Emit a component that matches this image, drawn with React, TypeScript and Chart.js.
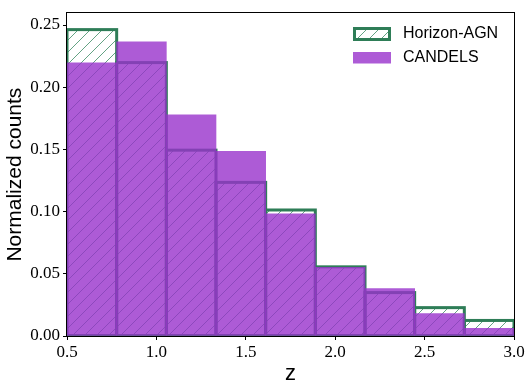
import React, { useEffect, useRef } from "react";
import { Chart, registerables } from "chart.js";

Chart.register(...registerables);

// Histogram bin edges (z)
const binEdges = [0.5, 0.7778, 1.0556, 1.3333, 1.6111, 1.8889, 2.1667, 2.4444, 2.7222, 3.0];
// Normalized counts per bin
const horizonAGN = [0.2463, 0.2198, 0.1494, 0.1235, 0.1013, 0.0556, 0.0349, 0.0228, 0.0125];
const candels = [0.2196, 0.2365, 0.1778, 0.1484, 0.0982, 0.0553, 0.0381, 0.018, 0.0061];
const seriesLabels = ["Horizon-AGN", "CANDELS"];
const xTicks = [0.5, 1.0, 1.5, 2.0, 2.5, 3.0];
const yTicks = [0, 0.05, 0.1, 0.15, 0.2, 0.25];
const xTitle = "z";
const yTitle = "Normalized counts";

const GREEN = "rgb(46,125,87)";
const PURPLE = "rgba(153,50,204,0.8)";
const SERIF = "'Liberation Serif', 'DejaVu Serif', serif";
const SANS = "'Liberation Sans', 'DejaVu Sans', sans-serif";

function makeHatch(): CanvasPattern | string {
  const c = document.createElement("canvas");
  c.width = 12;
  c.height = 12;
  const g = c.getContext("2d");
  if (!g) return "transparent";
  g.strokeStyle = "rgb(60,140,100)";
  g.lineWidth = 0.8;
  g.beginPath();
  g.moveTo(-1, 1);
  g.lineTo(1, -1);
  g.moveTo(-1, 13);
  g.lineTo(13, -1);
  g.moveTo(11, 13);
  g.lineTo(13, 11);
  g.stroke();
  return g.createPattern(c, "repeat") || "transparent";
}

export default function App() {
  const ref = useRef<HTMLCanvasElement | null>(null);

  useEffect(() => {
    if (!ref.current) return;
    const hatch = makeHatch();
    const centers = binEdges.slice(0, -1).map((e, i) => (e + binEdges[i + 1]) / 2);

    const custom = {
      id: "mplStyle",
      afterDatasetDraw(chart: any, args: any) {
        if (args.index !== 0) return;
        const ctx = chart.ctx;
        const a = chart.chartArea;
        ctx.save();
        ctx.beginPath();
        ctx.rect(a.left, a.top, a.right - a.left, a.bottom - a.top);
        ctx.clip();
        ctx.strokeStyle = GREEN;
        ctx.lineWidth = 3;
        for (const el of args.meta.data) {
          const p = el.getProps(["x", "y", "base", "width"], true);
          ctx.strokeRect(p.x - p.width / 2, p.y, p.width, p.base - p.y);
        }
        ctx.restore();
      },
      afterDatasetsDraw(chart: any) {
        const ctx = chart.ctx;
        const a = chart.chartArea;
        ctx.save();
        ctx.strokeStyle = "#000";
        ctx.lineWidth = 1;
        ctx.strokeRect(Math.round(a.left) - 0.5, Math.round(a.top) - 0.5, Math.round(a.right - a.left) + 1, Math.round(a.bottom - a.top) + 1);
        ctx.restore();
      },
      afterDraw(chart: any) {
        const ctx = chart.ctx;
        const a = chart.chartArea;
        const px = a.right - 159.5;
        ctx.save();
        // Horizon-AGN patch
        ctx.fillStyle = hatch;
        ctx.fillRect(px, 28.5, 35, 11);
        ctx.strokeStyle = GREEN;
        ctx.lineWidth = 3;
        ctx.strokeRect(px, 28.5, 35, 11);
        // CANDELS patch
        ctx.fillStyle = PURPLE;
        ctx.fillRect(px - 1.5, 52, 38, 11.5);
        // Texts
        ctx.fillStyle = "#000";
        ctx.font = `16px ${SANS}`;
        ctx.textBaseline = "middle";
        ctx.textAlign = "left";
        ctx.fillText(seriesLabels[0], a.right - 111, 33.5);
        ctx.fillText(seriesLabels[1], a.right - 111, 58);
        ctx.restore();
      },
    };

    const chart = new Chart(ref.current, {
      type: "bar",
      data: {
        datasets: [
          {
            label: seriesLabels[0],
            data: centers.map((x, i) => ({ x, y: horizonAGN[i] })),
            backgroundColor: hatch as any,
            borderWidth: 0,
            order: 1,
            grouped: false,
            barPercentage: 1,
            categoryPercentage: 1,
          } as any,
          {
            label: seriesLabels[1],
            data: centers.map((x, i) => ({ x, y: candels[i] })),
            backgroundColor: PURPLE,
            borderWidth: 0,
            order: 0,
            grouped: false,
            barPercentage: 1,
            categoryPercentage: 1,
          } as any,
        ],
      },
      options: {
        animation: false,
        responsive: false,
        layout: { padding: { left: 0, right: 17, top: 10, bottom: 0 } },
        plugins: { legend: { display: false }, tooltip: { enabled: false } },
        scales: {
          x: {
            type: "linear",
            min: binEdges[0],
            max: binEdges[binEdges.length - 1],
            offset: false,
            afterBuildTicks: (s: any) => {
              s.ticks = xTicks.map((v) => ({ value: v }));
            },
            afterFit: (s: any) => {
              s.height = 55;
            },
            ticks: {
              callback: (v: any) => Number(v).toFixed(1),
              font: { family: SERIF, size: 17 },
              color: "#000",
              padding: 2,
              maxRotation: 0,
              autoSkip: false,
            },
            grid: { offset: false, drawOnChartArea: false, drawTicks: true, tickLength: 4, color: "#000", lineWidth: 1 },
            border: { display: false },
            title: {
              display: true,
              text: xTitle,
              font: { family: SANS, size: 22 },
              color: "#000",
              padding: { top: 0, bottom: 4 },
            },
          } as any,
          y: {
            type: "linear",
            min: 0,
            max: 0.2595,
            afterBuildTicks: (s: any) => {
              s.ticks = yTicks.map((v) => ({ value: v }));
            },
            afterFit: (s: any) => {
              s.width = 67;
            },
            ticks: {
              callback: (v: any) => Number(v).toFixed(2),
              font: { family: SERIF, size: 17 },
              color: "#000",
              padding: 3,
            },
            grid: { drawOnChartArea: false, drawTicks: true, tickLength: 4, color: "#000", lineWidth: 1 },
            border: { display: false },
            title: {
              display: true,
              text: yTitle,
              font: { family: SANS, size: 21 },
              color: "#000",
              padding: { top: 3, bottom: 0 },
            },
          } as any,
        },
      },
      plugins: [custom],
    });
    return () => chart.destroy();
  }, []);

  return (
    <div style={{ position: "absolute", left: 0, top: 0, width: 531, height: 391 }}>
      <canvas ref={ref} width={531} height={391} style={{ display: "block" }} />
    </div>
  );
}
